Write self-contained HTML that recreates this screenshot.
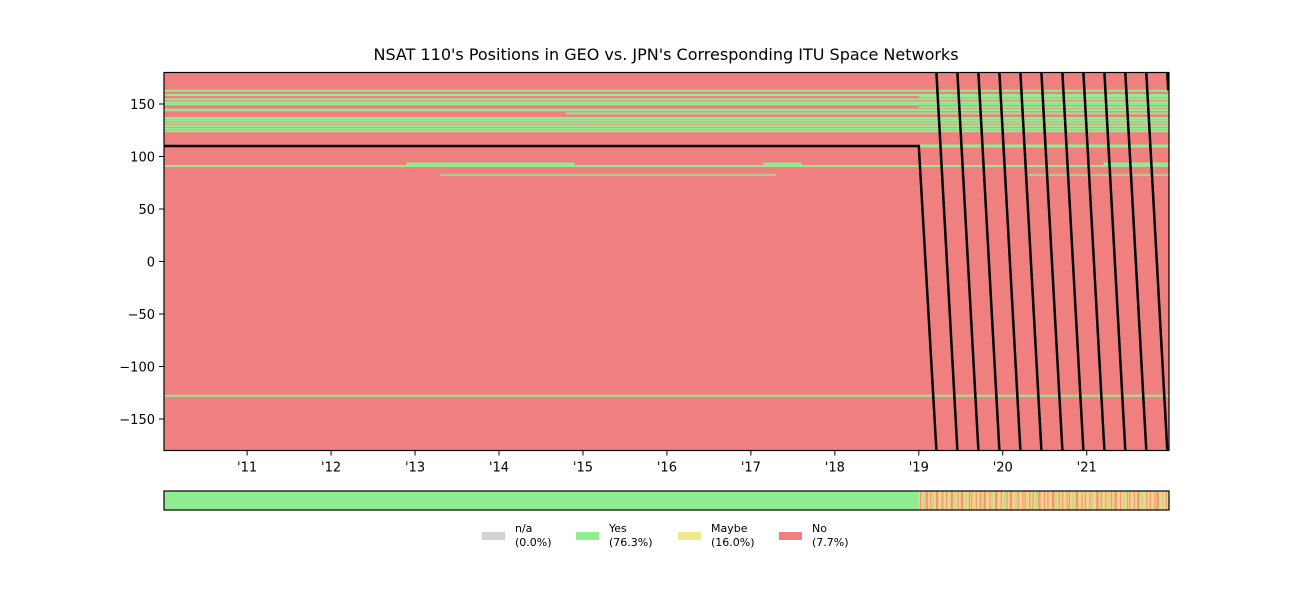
<!DOCTYPE html>
<html><head><meta charset="utf-8"><style>
body{margin:0;background:#fff;}
svg text{font-family:"DejaVu Sans","Liberation Sans",sans-serif;}
</style></head><body>
<svg id="chart" width="1300" height="600" viewBox="0 0 1300 600">
<text x="666" y="60" text-anchor="middle" font-size="16">NSAT 110's Positions in GEO vs. JPN's Corresponding ITU Space Networks</text>
<g id="plot"></g>
<g id="status"></g>
<g id="legend"></g>
</svg>
<script>
const xTicks = [2011,2012,2013,2014,2015,2016,2017,2018,2019,2020,2021];
const xTickLabels = ["'11","'12","'13","'14","'15","'16","'17","'18","'19","'20","'21"];
const yTicks = [150,100,50,0,-50,-100,-150];
const yTickLabels = ["150","100","50","0","\u221250","\u2212100","\u2212150"];
// ITU network bands: longitude, start year, end year, stroke width
const bandLon   = [162.6,158.6,154.5,151.7,149.8,144.3,141.1,136.4,134.1,131.6,129.0,126.5,124.0,91.0,92.9,92.9,92.9,82.4,82.4,-127.8,110.0,157.0,147.0];
const bandStart = [2010.0,2010.0,2010.0,2010.0,2010.0,2010.0,2014.8,2010.0,2010.0,2010.0,2010.0,2010.0,2010.0,2010.0,2012.9,2017.15,2021.2,2013.3,2020.3,2010.0,2019.0,2019.0,2019.0];
const bandEnd   = [2022.1,2022.1,2022.1,2022.1,2022.1,2022.1,2022.1,2022.1,2022.1,2022.1,2022.1,2022.1,2022.1,2022.1,2014.9,2017.6,2022.1,2017.3,2022.1,2022.1,2022.1,2022.1,2022.1];
const bandWidth = [2,2,2,2,2,2.5,2,2.5,2,2,2,2,2,2,3,3,3,1.5,1.5,2,3,2,2];
// Satellite longitude track (null = break at wrap)
const trackT   = [2010.01,2019.0,2019.21,null,2019.21,2019.46,null,2019.46,2019.71,null,2019.71,2019.96,null,2019.96,2020.21,null,2020.21,2020.46,null,2020.46,2020.71,null,2020.71,2020.96,null,2020.96,2021.21,null,2021.21,2021.46,null,2021.46,2021.71,null,2021.71,2021.96,null,2021.96,2021.97];
const trackLon = [110,110,-180,null,180,-180,null,180,-180,null,180,-180,null,180,-180,null,180,-180,null,180,-180,null,180,-180,null,180,-180,null,180,-180,null,180,-180,null,180,-180,null,180,163];
// status bar: before 2019 all Yes, then per-period status
const statusStart = 2019.0;
const statusCodes = "MNMMYMNNMMNMYMMNNMMMNYMMNMMMNNMYMMNMMNNMMYMMNMNMMMNMMYNMMNNMMMNMYMMNNMMMNMMYMNMMNNMMMYMNMMMNMNMMMNMMNMMYMNNMMMNMMNMMMNNMYMMNMMNMMMNMNMMYMMNNMMMNMMNMMMNMYMMMNNMMNMMMNMMYMNMMNNMMMNMMYMMNMNMMMNMMNNMMYMMMNMMNMMMNMNNMMMYMMNMM";
const legendLabels = ["n/a","Yes","Maybe","No"];
const legendPct = ["(0.0%)","(76.3%)","(16.0%)","(7.7%)"];
const legendColors = ["#d3d3d3","#90ee90","#f0e68c","#f08080"];

const X0=164,X1=1169,T0=2010.01,T1=2021.98,Y0=72.5,Y1=450.5;
const xs=t=>X0+(t-T0)/(T1-T0)*(X1-X0);
const ys=v=>Y0+(180-v)/360*(Y1-Y0);
const NS='http://www.w3.org/2000/svg';
function mk(tag,attrs,parent){const e=document.createElementNS(NS,tag);for(const k in attrs)e.setAttribute(k,attrs[k]);parent.appendChild(e);return e;}
const plot=document.getElementById('plot');
const bg=mk('rect',{x:X0,y:Y0,width:X1-X0,height:Y1-Y0,fill:'#f08080'},plot);


const clip=mk('clipPath',{id:'pc'},plot);mk('rect',{x:X0,y:Y0,width:X1-X0,height:Y1-Y0},clip);
const inner=mk('g',{'clip-path':'url(#pc)'},plot);
for(let i=0;i<bandLon.length;i++){
  const l=mk('line',{x1:xs(Math.max(bandStart[i],T0)),x2:xs(bandEnd[i]),y1:ys(bandLon[i]),y2:ys(bandLon[i]),stroke:'#90ee90','stroke-width':bandWidth[i]},inner);
  
  
}
let d='',pen=false;
for(let i=0;i<trackT.length;i++){
  if(trackT[i]===null){pen=false;continue;}
  d+=(pen?'L':'M')+xs(trackT[i]).toFixed(1)+','+ys(trackLon[i]).toFixed(1);pen=true;
}
const tr=mk('path',{d:d,fill:'none',stroke:'#000','stroke-width':2.5},inner);


const fr=mk('rect',{x:X0,y:Y0,width:X1-X0,height:Y1-Y0,fill:'none',stroke:'#000','stroke-width':1.2},plot);


xTicks.forEach((t,i)=>{
  mk('line',{x1:xs(t),x2:xs(t),y1:Y1,y2:Y1+5,stroke:'#000'},plot);
  const tx=mk('text',{x:xs(t),y:Y1+21,'text-anchor':'middle','font-size':13},plot);
  tx.textContent=xTickLabels[i];
  
  
});
yTicks.forEach((v,i)=>{
  mk('line',{x1:X0-5,x2:X0,y1:ys(v),y2:ys(v),stroke:'#000'},plot);
  const tx=mk('text',{x:X0-9,y:ys(v)+5,'text-anchor':'end','font-size':13},plot);
  tx.textContent=yTickLabels[i];
  
  
});
// status bar
const st=document.getElementById('status');
const SY=491,SH=19;
const cmap={Y:'#90ee90',M:'#f0e68c',N:'#f08080'};
const r0=mk('rect',{x:X0,y:SY,width:xs(statusStart)-X0,height:SH,fill:'#90ee90'},st);


const sbg=mk('rect',{x:xs(statusStart),y:SY,width:X1-xs(statusStart),height:SH,fill:'#f2b87e'},st);


const n=statusCodes.length,w=(X1-xs(statusStart))/n;
for(let i=0;i<n;i++){
  const r=mk('rect',{x:xs(statusStart)+i*w,y:SY,width:w+0.2,height:SH,fill:cmap[statusCodes[i]],opacity:0.6},st);
  
  
}
const sf=mk('rect',{x:X0,y:SY,width:X1-X0,height:SH,fill:'none',stroke:'#000','stroke-width':1.2},st);


// legend
const lg=document.getElementById('legend');
const lx=[482,576,678,779];
legendLabels.forEach((lab,i)=>{
  const s=mk('rect',{x:lx[i],y:532,width:23,height:8,fill:legendColors[i]},lg);
  
  
  const t1=mk('text',{x:lx[i]+33,y:532,'font-size':11},lg);t1.textContent=lab;
  
  
  const t2=mk('text',{x:lx[i]+33,y:546,'font-size':11},lg);t2.textContent=legendPct[i];
  
  
});
</script>
</body></html>
